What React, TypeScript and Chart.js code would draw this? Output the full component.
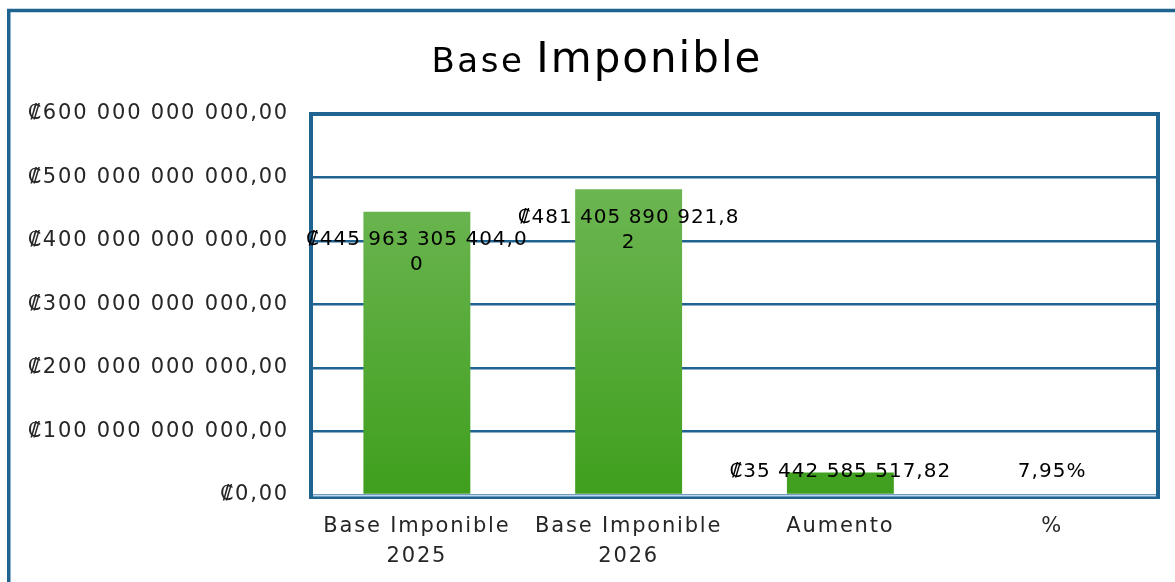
import React, { useEffect, useRef } from 'react';
import { Chart, registerables } from 'chart.js';

Chart.register(...registerables);

const categories: (string | string[])[] = [['Base Imponible', '2025'], ['Base Imponible', '2026'], 'Aumento', '%'];
const values: number[] = [445963305404.0, 481405890921.82, 35442585517.82, 0.0795];
const valueLabels: string[][] = [
  ['₡445 963 305 404,0', '0'],
  ['₡481 405 890 921,8', '2'],
  ['₡35 442 585 517,82'],
  ['7,95%'],
];
const yMin = 0;
const yMax = 600000000000;
const yStep = 100000000000;
const titleSmall = 'Base';
const titleLarge = 'Imponible';

const FONT = "'DejaVu Sans', sans-serif";
const BLUE = '#1F6391';
const LIGHT_BLUE = '#BDD7EE';

function formatColon(v: number): string {
  const s = Math.round(v).toString().replace(/\B(?=(\d{3})+(?!\d))/g, ' ');
  return '₡' + s + ',00';
}

const spacingPlugin = {
  id: 'spacing',
  beforeUpdate(chart: any) {
    chart.ctx.letterSpacing = '1.8px';
  },
  beforeDraw(chart: any) {
    chart.ctx.letterSpacing = '1.8px';
  },
};

const framePlugin = {
  id: 'frame',
  beforeDraw(chart: any) {
    const ctx = chart.ctx;
    ctx.save();
    ctx.fillStyle = '#ffffff';
    ctx.fillRect(0, 0, chart.width, chart.height);
    ctx.strokeStyle = BLUE;
    ctx.lineWidth = 3.5;
    ctx.beginPath();
    ctx.moveTo(8.75, chart.height + 10);
    ctx.lineTo(8.75, 10.5);
    ctx.lineTo(chart.width + 10, 10.5);
    ctx.stroke();
    ctx.restore();
  },
  afterDatasetsDraw(chart: any) {
    const ctx = chart.ctx;
    const a = chart.chartArea;
    ctx.save();
    ctx.strokeStyle = BLUE;
    ctx.lineWidth = 4;
    ctx.strokeRect(a.left, a.top, a.right - a.left, a.bottom + 2 - a.top);
    ctx.strokeStyle = LIGHT_BLUE;
    ctx.lineWidth = 2;
    ctx.beginPath();
    ctx.moveTo(a.left + 2, a.bottom + 0.5);
    ctx.lineTo(a.right - 2, a.bottom + 0.5);
    ctx.stroke();
    ctx.restore();
  },
};

const titlePlugin = {
  id: 'twoSizeTitle',
  afterDraw(chart: any) {
    const ctx = chart.ctx;
    ctx.save();
    ctx.fillStyle = '#000000';
    ctx.textBaseline = 'alphabetic';
    ctx.textAlign = 'left';
    ctx.letterSpacing = '2.5px';
    ctx.font = `34px ${FONT}`;
    const w1 = ctx.measureText(titleSmall).width;
    ctx.letterSpacing = '2px';
    ctx.font = `42px ${FONT}`;
    const w2 = ctx.measureText(titleLarge).width;
    const gap = 12;
    const total = w1 + gap + w2;
    const cx = 597;
    let x = cx - total / 2;
    const baseline = 72;
    ctx.letterSpacing = '2.5px';
    ctx.font = `34px ${FONT}`;
    ctx.fillText(titleSmall, x, baseline);
    x += w1 + gap;
    ctx.letterSpacing = '2px';
    ctx.font = `42px ${FONT}`;
    ctx.fillText(titleLarge, x, baseline);
    ctx.restore();
  },
};

const labelPlugin = {
  id: 'valueLabels',
  afterDatasetsDraw(chart: any) {
    const ctx = chart.ctx;
    const meta = chart.getDatasetMeta(0);
    const base = chart.scales.y.getPixelForValue(0);
    ctx.save();
    ctx.fillStyle = '#000000';
    ctx.textAlign = 'center';
    ctx.textBaseline = 'middle';
    ctx.letterSpacing = '1px';
    ctx.font = `20px ${FONT}`;
    meta.data.forEach((bar: any, i: number) => {
      const lines = valueLabels[i] || [];
      const first = Math.min(bar.y + 28, base - 23);
      lines.forEach((line, j) => {
        ctx.fillText(line, bar.x, first + j * 25);
      });
    });
    ctx.restore();
  },
};

export default function App() {
  const canvasRef = useRef<HTMLCanvasElement | null>(null);

  useEffect(() => {
    const canvas = canvasRef.current;
    if (!canvas) return;
    const chart = new Chart(canvas, {
      type: 'bar',
      data: {
        labels: categories,
        datasets: [
          {
            data: values,
            backgroundColor: (c: any) => {
              const ch = c.chart;
              const a = ch.chartArea;
              if (!a) return '#55AA35';
              const ys = ch.scales.y;
              const v = c.parsed ? c.parsed.y : 0;
              if (ys && Math.abs(ys.getPixelForValue(0) - ys.getPixelForValue(v)) < 1) return 'rgba(0,0,0,0)';
              const g = ch.ctx.createLinearGradient(0, a.top, 0, a.bottom);
              g.addColorStop(0, '#77BB5F');
              g.addColorStop(1, '#3F9F1D');
              return g;
            },
            borderWidth: 0,
            inflateAmount: 0,
            categoryPercentage: 1,
            barPercentage: 0.505,
          },
        ],
      },
      options: {
        animation: false,
        responsive: false,
        devicePixelRatio: 1,
        layout: { padding: { top: 114, right: 17, left: 0, bottom: 0 } },
        plugins: {
          legend: { display: false },
          title: { display: false },
          tooltip: { enabled: false },
        },
        scales: {
          x: {
            grid: { display: false, drawTicks: false },
            border: { display: false },
            ticks: {
              color: '#262626',
              font: { family: FONT, size: 21, lineHeight: 1.4 },
              padding: 17,
              maxRotation: 0,
              autoSkip: false,
            },
            afterFit: (s: any) => {
              s.height = 87;
            },
          },
          y: {
            min: yMin,
            max: yMax,
            grid: { color: BLUE, lineWidth: 2.6, drawTicks: false },
            border: { display: false },
            ticks: {
              stepSize: yStep,
              color: '#262626',
              font: { family: FONT, size: 21 },
              padding: 22,
              callback: (v: any) => formatColon(Number(v)),
            },
            afterFit: (s: any) => {
              s.width = 311;
            },
          },
        },
      },
      plugins: [spacingPlugin, framePlugin, labelPlugin, titlePlugin],
    });
    return () => chart.destroy();
  }, []);

  return (
    <div style={{ position: 'fixed', left: 0, top: 0, width: 1175, height: 582, overflow: 'hidden', background: '#fff' }}>
      <canvas ref={canvasRef} width={1175} height={582} style={{ width: 1175, height: 582, display: 'block' }} />
    </div>
  );
}
